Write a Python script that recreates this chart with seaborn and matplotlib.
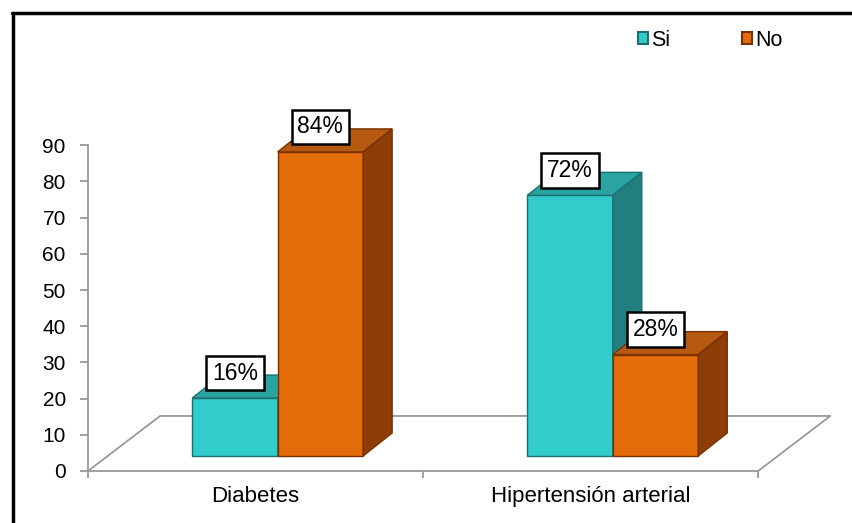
import pandas as pd
import matplotlib.pyplot as plt
from matplotlib.patches import Polygon, Patch
from matplotlib.lines import Line2D
import seaborn as sns

# Datos
categorias = ['Diabetes', 'Hipertensión arterial']
respuestas = ['Si', 'No']
si = [16, 72]
no = [84, 28]

df = pd.DataFrame({
    'categoria': categorias * 2,
    'respuesta': ['Si'] * len(si) + ['No'] * len(no),
    'valor': si + no,
})

sns.set_theme(style='white')
plt.rcParams['font.family'] = ['Liberation Sans', 'DejaVu Sans']
plt.rcParams['text.color'] = 'black'

frente = {'Si': '#33CCCC', 'No': '#E46C0A'}
arriba = {'Si': '#2AA3A3', 'No': '#B65A12'}
lado = {'Si': '#217F7F', 'No': '#8C3E06'}
borde = {'Si': '#1E7070', 'No': '#7A3000'}
gris = '#999999'

# pseudo-3D depth (axis units)
base = 4.15
desplaz = 0.066
dx, dy = 0.0866, 6.35
fdx, fdy = 0.215, 15.2

fig = plt.figure(figsize=(8.53, 5.23), dpi=100)
ax = fig.add_axes([88 / 853, 52 / 523, 754 / 853, 362 / 523])

sns.barplot(data=df, x='categoria', y='valor', hue='respuesta',
            hue_order=respuestas, order=categorias, palette=frente,
            width=0.51, saturation=1, legend=False, ax=ax)

# floor
ax.plot([-0.5, -0.5 + fdx, 1.5 + fdx, 1.5], [0, fdy, fdy, 0],
        color=gris, lw=1.3, zorder=1, clip_on=False)

bars = []
for resp, cont in zip(respuestas, ax.containers):
    for p in cont.patches:
        bars.append((p, resp))
bars.sort(key=lambda b: b[0].get_x())

for i, (p, resp) in enumerate(bars):
    z = 3 + i
    p.set_x(p.get_x() + desplaz)
    p.set_y(base)
    p.set_edgecolor(borde[resp])
    p.set_linewidth(1)
    p.set_zorder(z)
    x0 = p.get_x()
    x1 = x0 + p.get_width()
    top = base + p.get_height()
    ax.add_patch(Polygon([(x0, top), (x1, top), (x1 + dx, top + dy), (x0 + dx, top + dy)],
                         closed=True, fc=arriba[resp], ec=borde[resp], lw=1, zorder=z))
    ax.add_patch(Polygon([(x1, base), (x1 + dx, base + dy), (x1 + dx, top + dy), (x1, top)],
                         closed=True, fc=lado[resp], ec=borde[resp], lw=1, zorder=z))
    ax.annotate(f'{p.get_height():.0f}%', ((x0 + x1) / 2, top), xytext=(0, 18),
                textcoords='offset points', ha='center', va='center', fontsize=16.5,
                bbox=dict(boxstyle='square,pad=0.25', fc='white', ec='black', lw=1.8),
                zorder=20)

ax.set_xlim(-0.5, 1.75)
ax.set_ylim(0, 100)
ax.set_xlabel('')
ax.set_ylabel('')

sns.despine(ax=ax)
ax.spines['left'].set_bounds(0, 90)
ax.spines['bottom'].set_bounds(-0.5, 1.5)
for s in ['left', 'bottom']:
    ax.spines[s].set_color(gris)
    ax.spines[s].set_linewidth(1.3)

ax.set_yticks(range(0, 100, 10))
ax.tick_params(axis='y', left=True, length=6, width=1.3, color=gris,
               labelsize=15, pad=10, labelcolor='black')
ax.set_xticks([0, 1], categorias)
ax.set_xticks([-0.5, 0.5, 1.5], minor=True)
ax.tick_params(axis='x', which='major', length=0, pad=11, labelsize=16, labelcolor='black')
ax.tick_params(axis='x', which='minor', bottom=True, length=5, width=1.3, color=gris)

handles = [Patch(fc=frente[r], ec=borde[r], lw=1.5) for r in respuestas]
fig.legend(handles, respuestas, loc='center left', bbox_to_anchor=(638 / 853, 1 - 40 / 523),
           ncol=2, frameon=False, fontsize=15.5, handlelength=0.48, handleheight=0.48,
           handletextpad=0.15, columnspacing=3.3, borderpad=0, borderaxespad=0)

# outer frame
fig.add_artist(Line2D([12 / 853, 1], [1 - 13 / 523] * 2, color='black', lw=2.5))
fig.add_artist(Line2D([13 / 853] * 2, [0, 1 - 13 / 523], color='black', lw=2.5))

fig.savefig('out.png', dpi=100)
plt.close()
